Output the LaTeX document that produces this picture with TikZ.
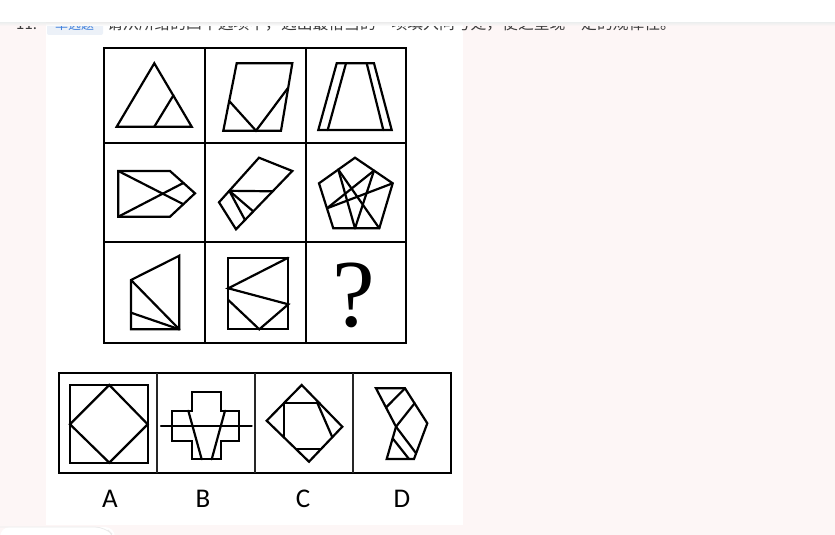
\documentclass[tikz,border=0pt]{standalone}
\usepackage{fontspec}
\newfontfamily\cjk{Noto Sans CJK SC}
\newfontfamily\carl{Carlito}
\newfontfamily\qserif{Liberation Serif}
\definecolor{bgpink}{RGB}{253,246,246}
\definecolor{tagblue}{RGB}{64,128,220}
\definecolor{tagbg}{RGB}{236,241,248}
\definecolor{txtgray}{RGB}{60,60,60}
\begin{document}
\begin{tikzpicture}[x=1pt,y=-1pt,
  fig/.style={line width=2.2pt, line join=miter, line cap=round},
  gridline/.style={line width=2.4pt},
  optdiv/.style={line width=1.7pt, black!85},
  lab/.style={font=\carl\fontsize{27}{27}\selectfont, inner sep=0pt}]
\useasboundingbox (0,0) rectangle (835,535);
% backgrounds
\fill[bgpink] (0,0) rectangle (835,535);
\fill[white] (46,24) rectangle (463,525);
\fill[white, rounded corners=10pt] (0,527) rectangle (115,560);
\draw[black!8, line width=0.8pt, rounded corners=10pt] (0,527) -- (105,527) -- (115,537) -- (115,545);
% header text (partly hidden by the top bar)
\node[anchor=base west, inner sep=0pt, text=txtgray, font=\cjk\fontsize{15}{15}\selectfont] (num) at (16,30) {11.};
\fill[tagbg, rounded corners=2pt] (47,17) rectangle (103,35);
\node[anchor=base west, inner sep=0pt, text=tagblue, font=\cjk\fontsize{13}{13}\selectfont] (tag) at (55,30) {单选题};
\node[anchor=base west, inner sep=0pt, text=txtgray, font=\cjk\fontsize{15.8}{15.8}\selectfont] (q) at (107,30) {请从所给的四个选项中，选出最恰当的一项填入问号处，使之呈现一定的规律性。};
\fill[white] (0,0) rectangle (835,23);
\shade[top color=black!6, bottom color=bgpink] (0,23) rectangle (46,26);
\shade[top color=black!6, bottom color=white] (46,23) rectangle (463,26);
\shade[top color=black!6, bottom color=bgpink] (463,23) rectangle (835,26);
% main grid
\draw[gridline] (104,48) rectangle (406,343);
\draw[gridline] (205,48) -- (205,343);
\draw[gridline] (306,48) -- (306,343);
\draw[gridline] (104,143) -- (406,143);
\draw[gridline] (104,242) -- (406,242);
% row 1
\draw[fig] (154.3,63.3) -- (191.7,126.7) -- (116.7,126.7) -- cycle;
\draw[fig] (154.3,126.7) -- (173.5,95.2);
\draw[fig] (236.7,63.3) -- (292.3,63.3) -- (281,130.7) -- (223.3,130.7) -- cycle;
\draw[fig] (229.2,101) -- (256,130.7) -- (288.2,87.7);
\draw[fig] (336.7,63.3) -- (374,63.3) -- (391.7,130) -- (318.3,130) -- cycle;
\draw[fig] (346,63.3) -- (327.7,130);
\draw[fig] (366.7,63.3) -- (383.3,130);
% row 2
\draw[fig] (118.3,171) -- (170,171) -- (195,193.3) -- (170,216.7) -- (118.3,216.7) -- cycle;
\draw[fig] (118.3,171) -- (183.5,204.3);
\draw[fig] (118.3,216.7) -- (183.5,182.9);
\draw[fig] (259,157.7) -- (292.3,171) -- (236,229.3) -- (219,202.3) -- cycle;
\draw[fig] (229.3,190.8) -- (272.7,191.3);
\draw[fig] (229.3,190.8) -- (253.3,211.4);
\draw[fig] (229.3,190.8) -- (245,220);
\draw[fig] (355,157.7) -- (392.7,183.3) -- (379.3,228.3) -- (333.3,228.3) -- (319,183.3) -- cycle;
\draw[fig] (338.3,169.6) -- (355,228.3);
\draw[fig] (338.3,169.6) -- (379.3,228.3);
\draw[fig] (374,170.6) -- (355,228.3);
\draw[fig] (374,170.6) -- (327,208.3);
\draw[fig] (392.7,183.3) -- (327,208.3);
% row 3
\draw[fig] (131,280) -- (179.3,255.7) -- (179.3,329.3) -- (131,329.3) -- cycle;
\draw[fig] (131,280) -- (179.3,329.3);
\draw[fig] (131,312.7) -- (179.3,329.3);
\draw[fig] (228.3,257.7) rectangle (288.3,329.3);
\draw[fig] (288.3,257.7) -- (228.3,288.3) -- (288.3,304.3) -- (259.3,329.3) -- (228.3,300);
\node[inner sep=0pt, font=\qserif\fontsize{96}{96}\selectfont] (qm) at (353.5,295.8) {?};
% options frame
\draw[gridline] (59,373) rectangle (451,473);
\draw[optdiv] (157,373) -- (157,473);
\draw[optdiv] (255,373) -- (255,473);
\draw[optdiv] (353,373) -- (353,473);
% A
\draw[fig] (70,385) rectangle (147.7,462.7);
\draw[fig] (109.3,385) -- (147.7,424.3) -- (109.3,462.7) -- (70,424.3) -- cycle;
% B
\draw[fig] (191.7,391.7) -- (220.7,391.7) -- (220.7,410.7) -- (239.3,410.7) -- (239.3,440.7) -- (220.7,440.7) -- (220.7,459.3) -- (191.7,459.3) -- (191.7,440.7) -- (172.3,440.7) -- (172.3,410.7) -- (191.7,410.7) -- cycle;
\draw[fig] (161,425.7) -- (251.7,425.7);
\draw[fig] (188.3,410.7) -- (201.7,459.3);
\draw[fig] (225,410.7) -- (211.7,459.3);
% C
\draw[fig] (301.7,385) -- (342.3,426.7) -- (309,461.7) -- (266.7,420.7) -- cycle;
\draw[fig] (319.5,403.3) -- (283.7,403.3) -- (283.7,437.2);
\draw[fig] (317.5,403.3) -- (332.3,437.2);
\draw[fig] (295.9,449) -- (321.1,449);
% D
\draw[fig] (376,388.3) -- (405,388.3) -- (427.3,423.3) -- (414,459) -- (386.7,459) -- (396,426.7) -- cycle;
\draw[fig] (405,388.3) -- (386,407.5);
\draw[fig] (414.6,403.3) -- (396,426.7);
\draw[fig] (396,426.7) -- (416.1,453.3);
\draw[fig] (392.6,438.3) -- (409,459);
% labels
\node[lab] (la) at (110,499) {A};
\node[lab] (lb) at (203,499) {B};
\node[lab] (lc) at (303,499) {C};
\node[lab] (ld) at (402,499) {D};
\end{tikzpicture}
\end{document}
